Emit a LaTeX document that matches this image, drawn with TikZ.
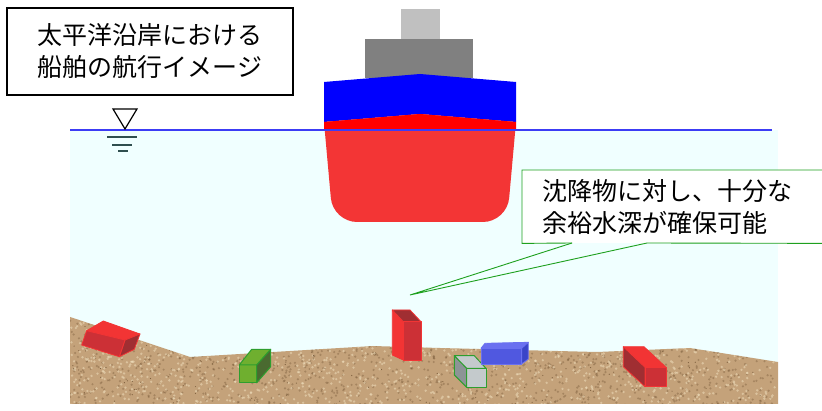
\documentclass[tikz,border=0pt]{standalone}
\usepackage{fontspec}
\newfontfamily\jpfont{Noto Sans CJK JP}
\usepackage{tikz}
\usetikzlibrary{positioning}

\definecolor{water}{HTML}{F0FFFF}
\definecolor{waterline}{HTML}{3C3CF5}
\definecolor{hullred}{HTML}{F33535}
\definecolor{bandred}{HTML}{FF0000}
\definecolor{deckblue}{HTML}{0000FF}
\definecolor{cabin}{HTML}{808080}
\definecolor{funnel}{HTML}{C0C0C0}
\definecolor{sand}{HTML}{C4A27A}
\definecolor{sanddark}{HTML}{6E5030}
\definecolor{sandlight}{HTML}{EEDDBB}
\definecolor{calloutgreen}{HTML}{1EA01E}
\definecolor{redA}{HTML}{F23434}
\definecolor{redB}{HTML}{CC3036}
\definecolor{redC}{HTML}{A02E32}
\definecolor{boxgreen}{HTML}{2E9E2E}
\definecolor{greenA}{HTML}{6FAF2F}
\definecolor{greenB}{HTML}{4A6A30}
\definecolor{greyA}{HTML}{C4CACC}
\definecolor{greyB}{HTML}{8C9496}
\definecolor{blueA}{HTML}{5058E0}
\definecolor{blueB}{HTML}{3A44C8}
\definecolor{blueC}{HTML}{6A70F0}
\definecolor{slate}{HTML}{2F4F4F}

\begin{document}
\begin{tikzpicture}[x=1pt,y=-1pt,
                    jptext/.style={font=\jpfont\fontsize{25}{32}\selectfont},
                    titlebox/.style={jptext,draw=black,line width=1.2pt,fill=white,
                                     minimum width=286pt,minimum height=87pt,align=center},
                    notebox/.style={jptext,fill=white,anchor=north west,text width=270pt,
                                    inner xsep=20pt,minimum height=73pt,align=left},
                    callout/.style={draw=calloutgreen,line width=0.9pt},
                    redbox/.style={draw=redA,line width=0.8pt,line join=round},
                    greenbox/.style={draw=boxgreen,line width=1pt,line join=round},
                    bluebox/.style={draw=blueC,line width=0.8pt,line join=round}]

  \useasboundingbox (0,0) rectangle (822,411);

  % water and seabed
  \fill[water] (70,130) rectangle (778,404);
  \fill[sand] (70,317) -- (190,357) -- (373,346) -- (440,348) -- (597,352)
              -- (690,348) -- (778,362) -- (778,404) -- (70,404) -- cycle;
  \begin{scope}
    \clip (70,317) -- (190,357) -- (373,346) -- (440,348) -- (597,352)
          -- (690,348) -- (778,362) -- (778,404) -- (70,404) -- cycle;
    \pgfmathsetseed{11}
    \foreach \i in {1,...,1400}{
      \pgfmathsetmacro\sx{70+708*rnd}
      \pgfmathsetmacro\sy{315+90*rnd}
      \fill[sanddark,opacity=0.35] (\sx,\sy) circle (1.2pt);
    }
    \foreach \i in {1,...,1400}{
      \pgfmathsetmacro\sx{70+708*rnd}
      \pgfmathsetmacro\sy{315+90*rnd}
      \fill[sandlight,opacity=0.55] (\sx,\sy) circle (1.3pt);
    }
    \foreach \i in {1,...,250}{
      \pgfmathsetmacro\sx{70+708*rnd}
      \pgfmathsetmacro\sy{315+90*rnd}
      \fill[sanddark,opacity=0.8] (\sx,\sy) circle (0.6pt);
    }
  \end{scope}

  % ship
  \fill[funnel] (401,9) rectangle (440,39);
  \fill[cabin] (365,39) rectangle (473,78);
  \fill[deckblue] (324,82) -- (420,74) -- (516,82) -- (516,122) -- (420,114)
                  -- (324,122) -- cycle;
  \fill[hullred] (324,122) -- (420,114) -- (516,122) [rounded corners=24pt]
                 -- (507,222) -- (333,222) [sharp corners] -- cycle;
  \begin{scope}
    \clip (324,122) -- (420,114) -- (516,122) -- (516,130) -- (324,130) -- cycle;
    \fill[bandred] (320,110) rectangle (520,130);
  \end{scope}

  \draw[waterline,line width=2.6pt] (70,130) -- (772,130);

  % water level mark
  \filldraw[fill=white,draw=black,line width=1.2pt] (113,109) -- (137,109) -- (125,129) -- cycle;
  \draw[slate,line width=1.4pt] (107,137) -- (137,137)
                                (112,145) -- (132,145)
                                (118,151) -- (128,151);

  % sunken objects
  \filldraw[redbox,fill=redA] (86.7,330.7) -- (103.3,321) -- (140,334) -- (125,340) -- cycle;
  \filldraw[redbox,fill=redC] (125,340) -- (140,334) -- (134.3,349.3) -- (119.3,356.7) -- cycle;
  \filldraw[redbox,fill=redB] (86.7,330.7) -- (125,340) -- (119.3,356.7) -- (81.7,345) -- cycle;

  \filldraw[greenbox,fill=greenA] (239.3,365) -- (256.7,365) -- (256.7,382.7) -- (239.3,382.7) -- cycle;
  \filldraw[greenbox,fill=greenA] (239.3,365) -- (251.7,349.3) -- (270.7,349.3) -- (256.7,365) -- cycle;
  \filldraw[greenbox,fill=greenB] (256.7,365) -- (270.7,349.3) -- (270.7,366.7) -- (256.7,382.7) -- cycle;

  \filldraw[redbox,fill=redA] (392.3,310) -- (403.3,321.7) -- (403.3,360) -- (392.3,355) -- cycle;
  \filldraw[redbox,fill=redC] (392.3,310) -- (410,310) -- (421,321.7) -- (403.3,321.7) -- cycle;
  \filldraw[redbox,fill=redB] (403.3,321.7) -- (421,321.7) -- (421,360) -- (403.3,360) -- cycle;

  \filldraw[greenbox,fill=greyA] (466.7,368.3) -- (486,368.3) -- (486,387.3) -- (466.7,387.3) -- cycle;
  \filldraw[greenbox,fill=greyB] (454.3,355.7) -- (466.7,368.3) -- (466.7,387.3) -- (454.3,375) -- cycle;
  \filldraw[greenbox,fill=greyA] (454.3,355.7) -- (474.3,355.7) -- (486,368.3) -- (466.7,368.3) -- cycle;

  \filldraw[bluebox,fill=blueC] (485,343.3) -- (528.3,342.3) -- (521.7,348.3) -- (481,348.3) -- cycle;
  \filldraw[bluebox,fill=blueB] (521.7,348.3) -- (528.3,342.3) -- (528.3,359) -- (521.7,364) -- cycle;
  \filldraw[bluebox,fill=blueA] (481,348.3) -- (521.7,348.3) -- (521.7,364) -- (481,364) -- cycle;

  \filldraw[redbox,fill=redA] (623.3,346.7) -- (644,346.7) -- (666,367.3) -- (645,367.3) -- cycle;
  \filldraw[redbox,fill=redC] (623.3,346.7) -- (645,367.3) -- (645,386.7) -- (623.3,366.7) -- cycle;
  \filldraw[redbox,fill=redB] (645,367.3) -- (666,367.3) -- (666,386.7) -- (645,386.7) -- cycle;

  % labels
  \node[titlebox] (title) at (150,51.5) {太平洋沿岸における\\船舶の航行イメージ};

  \node[notebox] (note) at (522,170) {沈降物に対し、十分な\\余裕水深が確保可能};
  \coordinate (pl) at (572,243);
  \coordinate (pr) at (647,243);
  \coordinate (tip) at (410,295);
  \draw[callout] (pl) -- (note.south west) -- (note.north west) -- (note.north east)
                 -- (note.south east) -- (pr);
  \draw[callout] (pl) -- (tip) -- (pr);
\end{tikzpicture}
\end{document}
